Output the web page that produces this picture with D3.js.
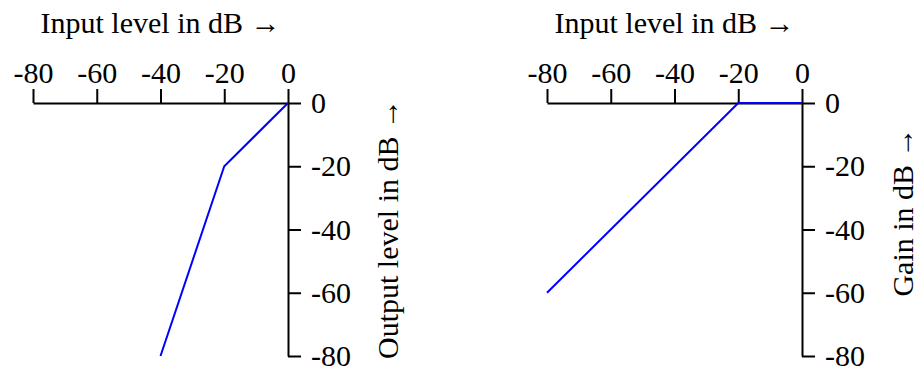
<!DOCTYPE html>
<html>
<head>
<meta charset="utf-8">
<script src="https://cdn.jsdelivr.net/npm/d3@7"></script>
<style>
  body { margin: 0; background: #fff; }
  svg text { font-family: "Liberation Serif", "Times New Roman", serif; font-size: 30px; fill: #000; }
</style>
</head>
<body>
<svg id="chart" width="920" height="367"></svg>
<script>
// tick values shared by both panels
const xTicks = [-80, -60, -40, -20, 0];
const yTicks = [0, -20, -40, -60, -80];

// left panel: output level vs input level
const levelInput = [0, -20, -40];
const levelOutput = [0, -20, -80];

// right panel: gain vs input level
const gainInput = [-80, -20, 0];
const gainValues = [-60, 0, 0];

const titleText = "Input level in dB \u2192";
const leftYLabel = "Output level in dB \u2192";
const rightYLabel = "Gain in dB \u2192";

const svg = d3.select("#chart");

function drawPanel(opts) {
  const x = d3.scaleLinear().domain([-80, 0]).range(opts.xRange);
  const y = d3.scaleLinear().domain([0, -80]).range([103, 356]);

  const xAxis = svg.append("g")
    .attr("transform", `translate(0, ${y(0)})`)
    .call(d3.axisTop(x).tickValues(xTicks).tickSize(14).tickSizeOuter(0).tickPadding(6).tickFormat(d3.format("d")));

  const yAxis = svg.append("g")
    .attr("transform", `translate(${x(0)}, 0)`)
    .call(d3.axisRight(y).tickValues(yTicks).tickSize(13).tickSizeOuter(0).tickPadding(10).tickFormat(d3.format("d")));

  [xAxis, yAxis].forEach(a => {
    a.attr("font-family", null).attr("font-size", null);
    a.selectAll("path, line").attr("stroke", "#000").attr("stroke-width", 2);
    a.selectAll("text").attr("fill", "#000");
  });
  // use hyphen-minus like the reference
  svg.selectAll(".tick text").text(function () { return this.textContent.replace("\u2212", "-"); });

  const line = d3.line()
    .x(d => x(d[0]))
    .y(d => y(d[1]));

  svg.append("path")
    .datum(d3.zip(opts.xs, opts.ys))
    .attr("d", line)
    .attr("fill", "none")
    .attr("stroke", "#0000ff")
    .attr("stroke-width", 2);

  svg.append("text")
    .attr("x", (x(-80) + x(0)) / 2)
    .attr("y", 33)
    .attr("text-anchor", "middle")
    .text(titleText);

  svg.append("text")
    .attr("transform", `translate(${opts.labelX}, ${opts.labelY}) rotate(-90)`)
    .attr("text-anchor", "middle")
    .text(opts.yLabel);
}

drawPanel({ xRange: [33, 288], xs: levelInput, ys: levelOutput, yLabel: leftYLabel, labelX: 398, labelY: 229 });
drawPanel({ xRange: [547, 802], xs: gainInput, ys: gainValues, yLabel: rightYLabel, labelX: 913, labelY: 212 });
</script>
</body>
</html>
